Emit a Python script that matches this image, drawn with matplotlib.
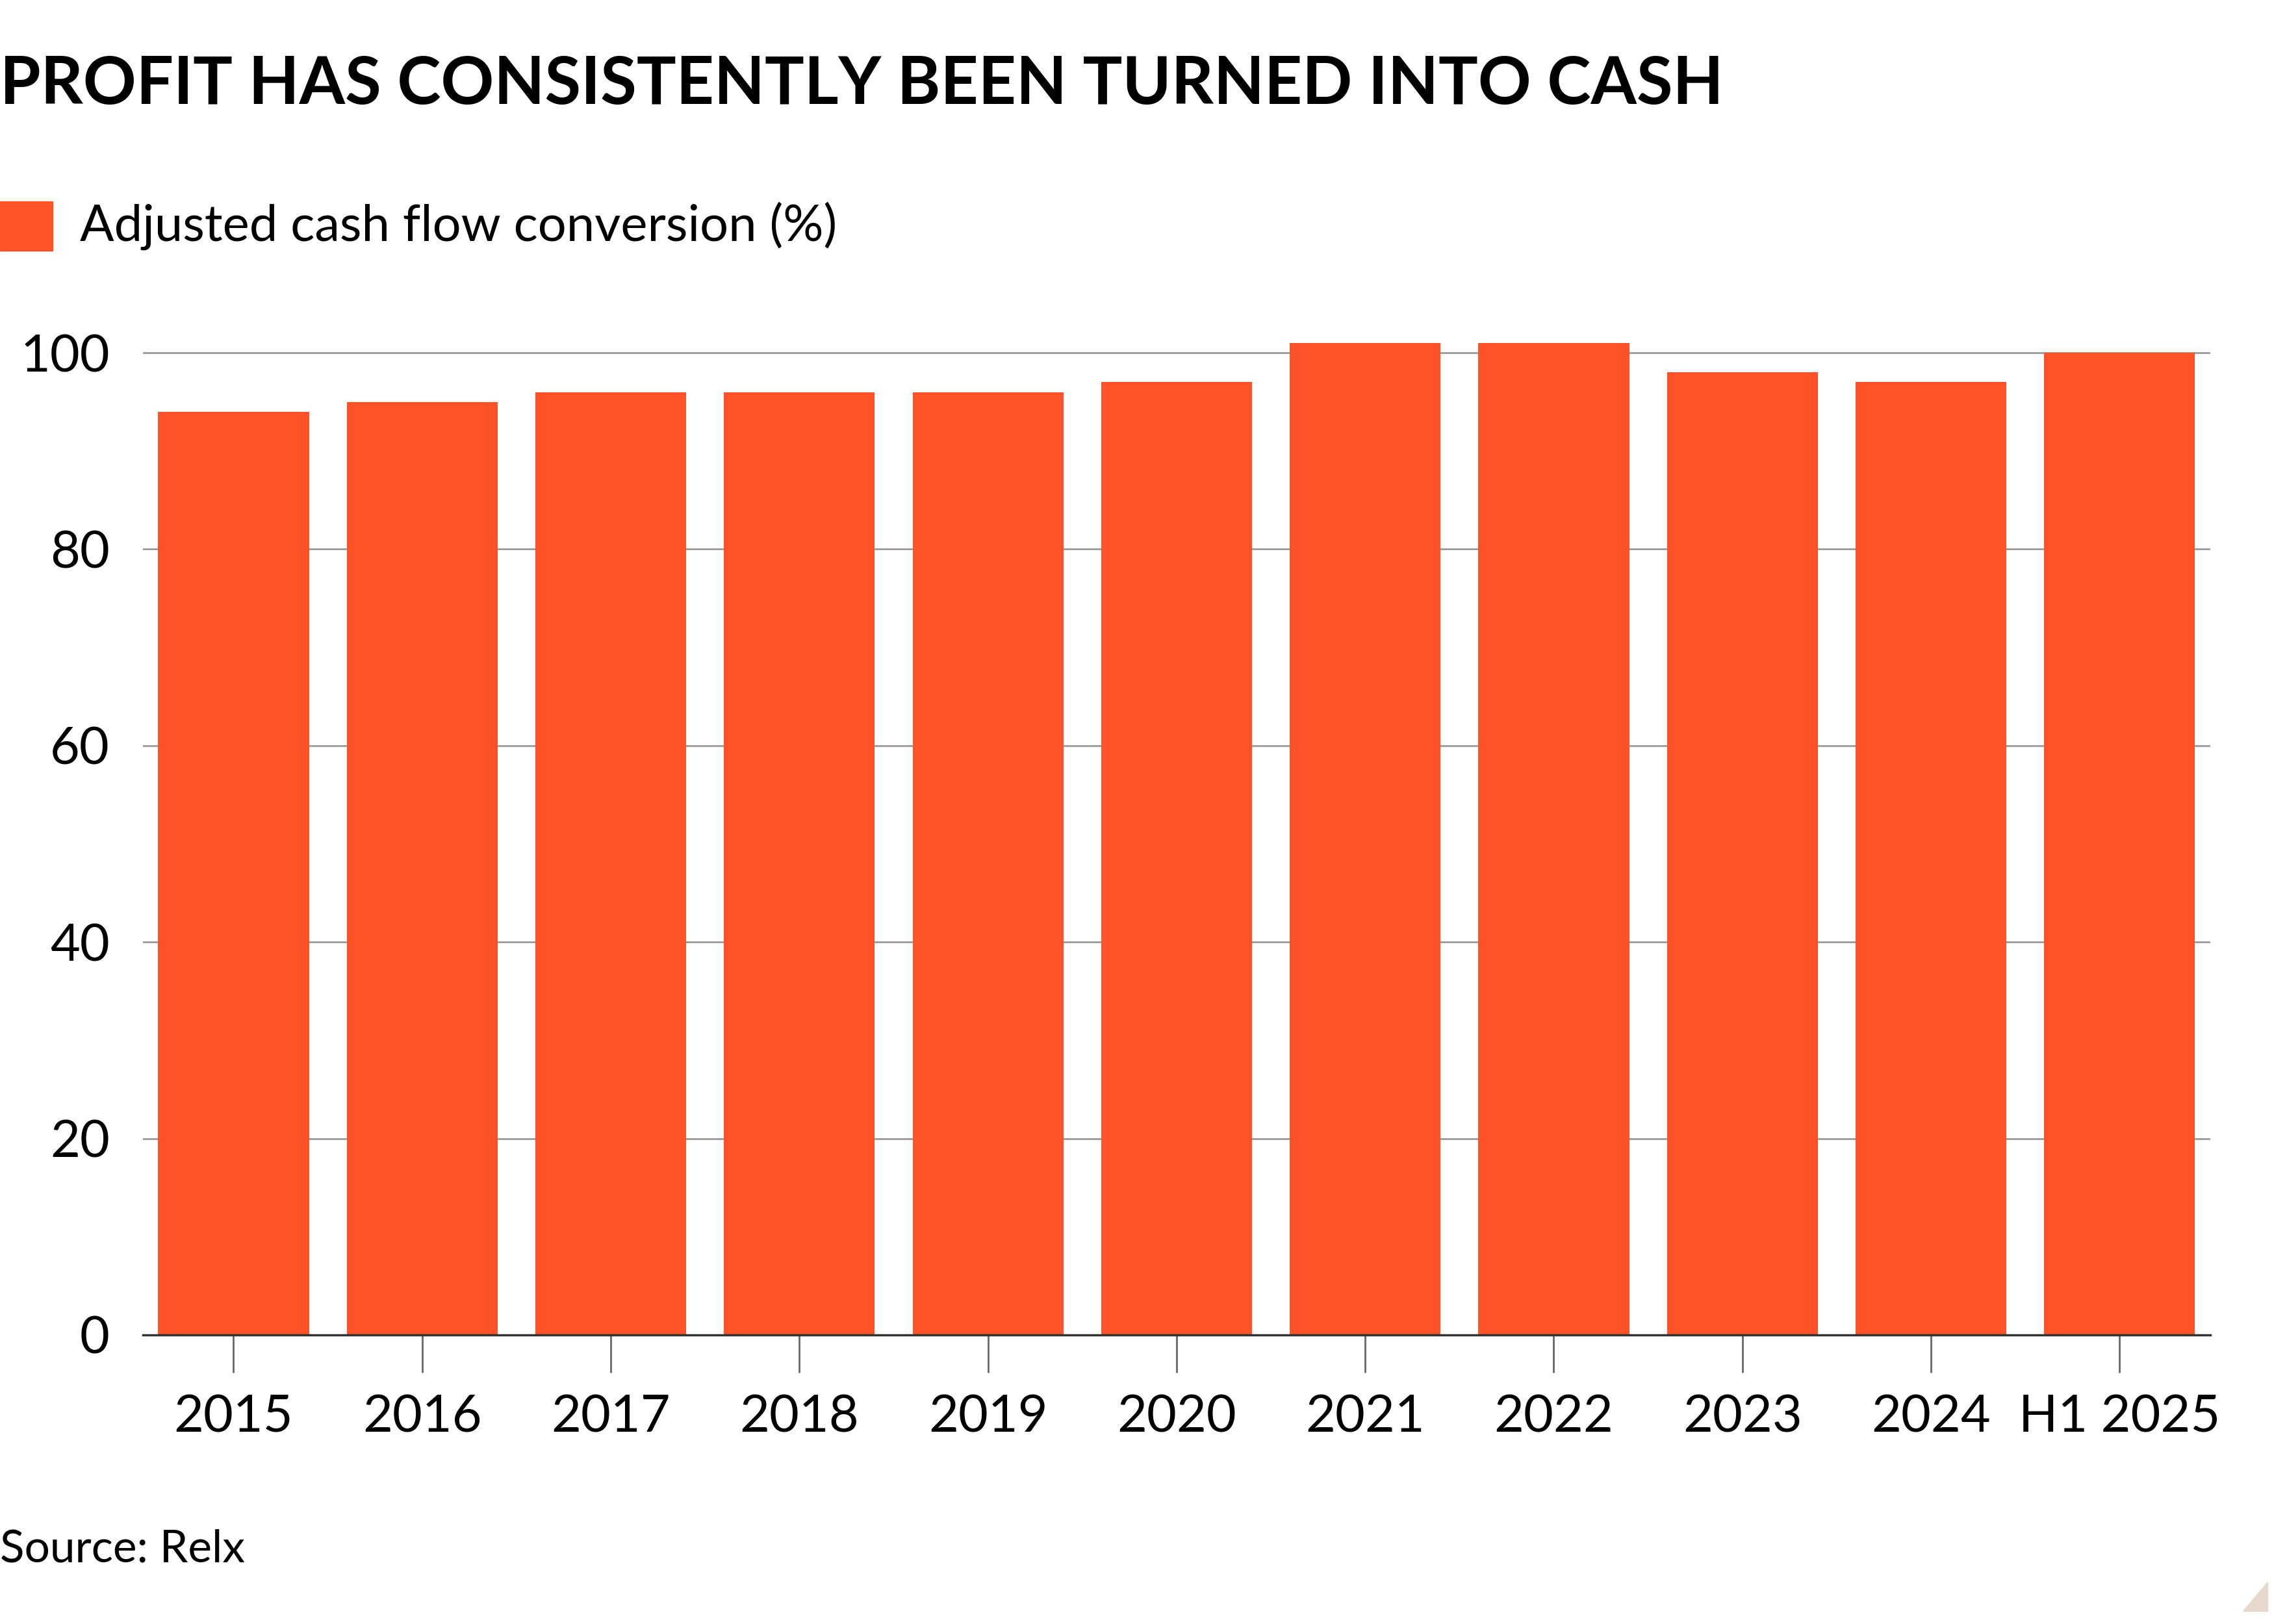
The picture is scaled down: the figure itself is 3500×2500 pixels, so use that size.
import matplotlib
matplotlib.use("Agg")
import matplotlib.pyplot as plt
from matplotlib.patches import Polygon, Rectangle

# data
categories = ["2015", "2016", "2017", "2018", "2019", "2020",
              "2021", "2022", "2023", "2024", "H1 2025"]
conversion = [94, 95, 96, 96, 96, 97, 101, 101, 98, 97, 100]
y_ticks = [0, 20, 40, 60, 80, 100]

bar_color = "#ff5229"
plt.rcParams["font.family"] = ["Lato", "DejaVu Sans"]

fig = plt.figure(figsize=(35, 25), dpi=100)
fig.patch.set_facecolor("white")
ax = fig.add_axes([0.0629, 0.178, 0.909, 0.635])

x = range(len(categories))
ax.bar(x, conversion, width=0.8, color=bar_color, zorder=2)

ax.set_xlim(-0.48, len(categories) - 0.52)
ax.set_ylim(0, 105)
ax.set_yticks(y_ticks)
ax.set_yticklabels([str(v) for v in y_ticks], fontsize=57)
ax.set_xticks(list(x))
ax.set_xticklabels(categories, fontsize=57)

ax.grid(axis="y", color="#9a9a9a", linewidth=2, zorder=1)
ax.tick_params(axis="y", length=0, pad=37)
ax.tick_params(axis="x", length=42, width=2, color="#666666", pad=24)
for side in ["top", "right", "left"]:
    ax.spines[side].set_visible(False)
ax.spines["bottom"].set_color("#333333")
ax.spines["bottom"].set_linewidth(2.5)
ax.spines["bottom"].set_zorder(3)

# title, legend, source
fig.text(0.0, 0.966, "PROFIT HAS CONSISTENTLY BEEN TURNED INTO CASH",
         fontsize=73, fontweight="bold", va="top", ha="left")
fig.patches.append(Rectangle((0.0, 1 - 386 / 2500), 81 / 3500, 76 / 2500,
                             transform=fig.transFigure, color=bar_color))
fig.text(123 / 3500, 1 - 348 / 2500, "Adjusted cash flow conversion (%)",
         fontsize=56, va="center", ha="left")
fig.text(0.0, 1 - 2385 / 2500, "Source: Relx", fontsize=50,
         va="center", ha="left")

# corner mark
fig.patches.append(Polygon([(3490 / 3500, 1 - 2435 / 2500),
                            (3490 / 3500, 1 - 2480 / 2500),
                            (3452 / 3500, 1 - 2480 / 2500)],
                           closed=True, transform=fig.transFigure,
                           color="#e6d9cc"))

fig.savefig("out.png", dpi=100, facecolor="white")
